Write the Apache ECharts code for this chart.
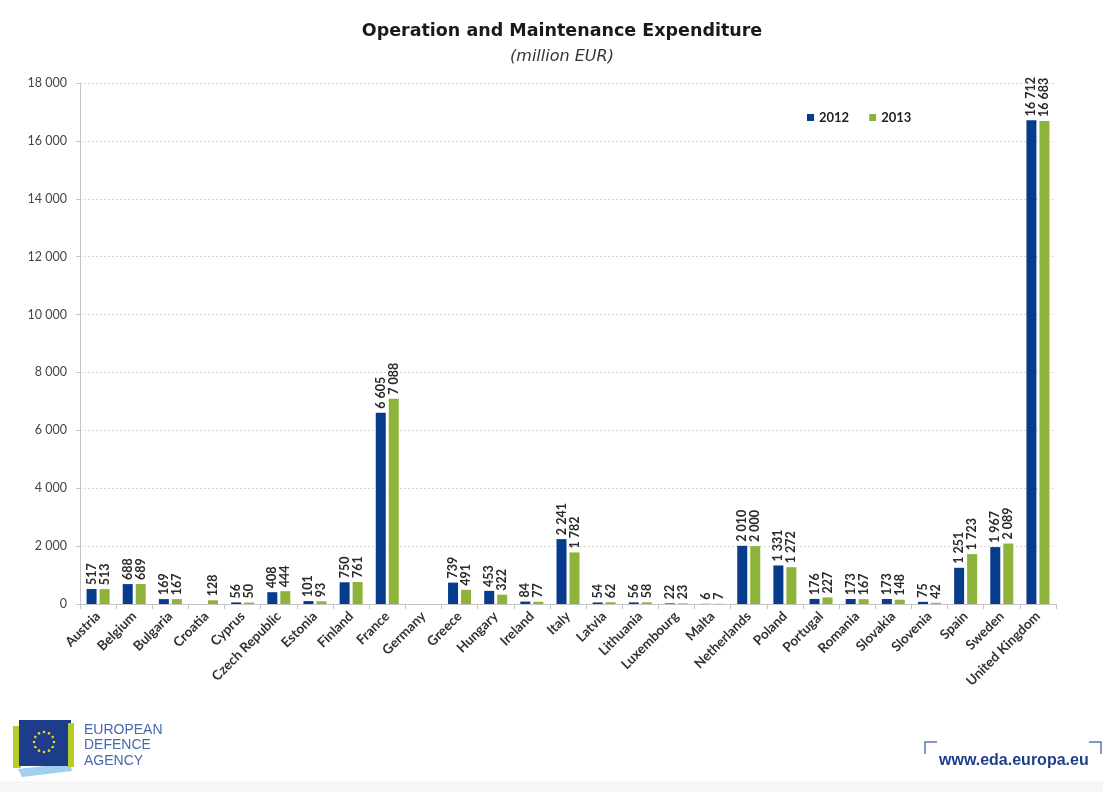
<!DOCTYPE html>
<html><head><meta charset="utf-8">
<script src="https://cdn.jsdelivr.net/npm/echarts@6/dist/echarts.min.js"></script>
<style>html,body{margin:0;padding:0;background:#fff}#c{width:1103px;height:792px}</style>
</head><body><div id="c"></div>
<script>
const categories = ['Austria','Belgium','Bulgaria','Croatia','Cyprus','Czech Republic','Estonia','Finland','France','Germany','Greece','Hungary','Ireland','Italy','Latvia','Lithuania','Luxembourg','Malta','Netherlands','Poland','Portugal','Romania','Slovakia','Slovenia','Spain','Sweden','United Kingdom'];
const values2012 = [517,688,169,null,56,408,101,750,6605,null,739,453,84,2241,54,56,22,6,2010,1331,176,173,173,75,1251,1967,16712];
const values2013 = [513,689,167,128,50,444,93,761,7088,null,491,322,77,1782,62,58,23,7,2000,1272,227,167,148,42,1723,2089,16683];
const seriesNames = ['2012','2013'];
const yTicks = {min:0, max:18000, interval:2000};

const fmt = v => String(v).replace(/\B(?=(\d{3})+(?!\d))/g, ' ');
const FONT = 'Lato, "Open Sans", sans-serif';
const WIDE = '"DejaVu Sans", sans-serif';
const chart = echarts.init(document.getElementById('c'), null, {renderer:'canvas'});

const label = {
  show:true, position:'top', rotate:90, align:'left', verticalAlign:'middle', distance:4,
  fontFamily:FONT, fontWeight:'bold', fontSize:12.5, color:'#2a2a2a',
  formatter: p => p.value == null ? '' : fmt(p.value)
};

const stars = [];
for (let i=0;i<12;i++){
  const a = i/12*Math.PI*2;
  stars.push({type:'circle', shape:{cx:44+Math.cos(a)*10, cy:742+Math.sin(a)*10, r:1.3}, style:{fill:'#f2d21b'}});
}

chart.setOption({
  backgroundColor:'#fff',
  animation:false,
  title:[
    {text:'Operation and Maintenance Expenditure', left:557, top:17, textAlign:'center',
     textStyle:{fontFamily:WIDE, fontSize:17.5, fontWeight:'bold', color:'#1a1a1a'}},
    {text:'(million EUR)', left:557, top:44, textAlign:'center',
     textStyle:{fontFamily:WIDE, fontSize:16, fontStyle:'italic', fontWeight:'normal', color:'#333'}}
  ],
  legend:{
    data:seriesNames, left:802, top:106, icon:'rect', itemWidth:7, itemHeight:7, itemGap:20,
    textStyle:{fontFamily:FONT, fontSize:13, fontWeight:'bold', color:'#222'}
  },
  grid:{left:80, right:47, top:83, bottom:188, containLabel:false},
  xAxis:{
    type:'category', data:categories,
    axisLine:{lineStyle:{color:'#c4c4c4'}},
    axisTick:{show:true, length:5, lineStyle:{color:'#c4c4c4'}},
    axisLabel:{rotate:45, interval:0, margin:10, fontFamily:FONT, fontWeight:'bold', fontSize:13.5, color:'#333'}
  },
  yAxis:{
    type:'value', min:yTicks.min, max:yTicks.max, interval:yTicks.interval,
    axisLine:{show:true, lineStyle:{color:'#c4c4c4'}},
    axisTick:{show:true, length:4, lineStyle:{color:'#c4c4c4'}},
    axisLabel:{fontFamily:FONT, fontSize:12.5, color:'#444', margin:13, formatter:v=>fmt(v)},
    splitLine:{lineStyle:{color:'#d8d8d8', type:[2,2]}}
  },
  series:[
    {name:seriesNames[0], type:'bar', data:values2012, barWidth:10, barGap:'30%',
     itemStyle:{color:'#073b8c'}, label:label},
    {name:seriesNames[1], type:'bar', data:values2013, barWidth:10,
     itemStyle:{color:'#8db33a'}, label:label}
  ],
  graphic:[
    {type:'rect', shape:{x:0,y:781,width:1103,height:11}, style:{fill:'#f7f7f7'}},
    {type:'polygon', shape:{points:[[18,769],[70,763],[72,771],[22,777]]}, style:{fill:'#9fd0ee'}},
    {type:'rect', shape:{x:13,y:726,width:8,height:42}, style:{fill:'#b7cb2a'}},
    {type:'rect', shape:{x:19,y:720,width:52,height:46}, style:{fill:'#1d3c8a'}},
    {type:'rect', shape:{x:68,y:723,width:6,height:44}, style:{fill:'#b7cb2a'}},
    ...stars,
    {type:'text', left:84, top:722, style:{text:'EUROPEAN\nDEFENCE\nAGENCY', fill:'#4767b0', fontFamily:'"Liberation Sans", sans-serif', fontSize:14, lineHeight:15.5}},
    {type:'polyline', shape:{points:[[925,754],[925,742],[937,742]]}, style:{stroke:'#5a78b5', lineWidth:1.5, fill:null}},
    {type:'polyline', shape:{points:[[1089,742],[1101,742],[1101,754]]}, style:{stroke:'#5a78b5', lineWidth:1.5, fill:null}},
    {type:'text', left:939, top:753, style:{text:'www.eda.europa.eu', fill:'#1d3f8c', fontFamily:'"Liberation Sans", sans-serif', fontSize:16, fontWeight:'bold'}}
  ]
});
</script></body></html>
